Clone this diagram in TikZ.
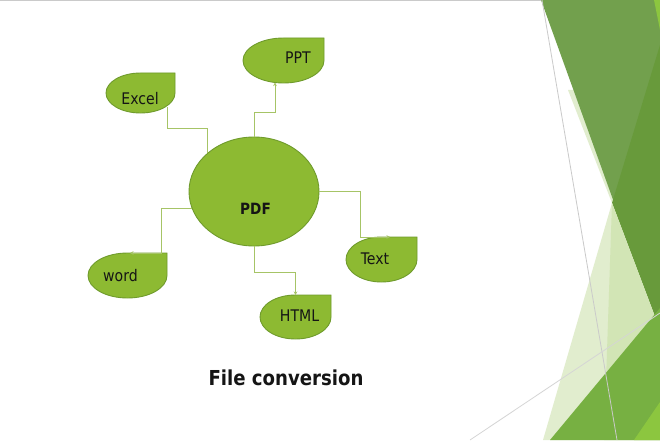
\documentclass[tikz,border=0pt]{standalone}
\usepackage{fontspec}
\setmainfont{DejaVu Sans}[FakeStretch=0.88]
\usetikzlibrary{calc,arrows.meta,shapes.geometric}
\definecolor{leaf}{HTML}{8DBA32}
\definecolor{leafline}{HTML}{6F9B2C}
\definecolor{linkc}{HTML}{A6C466}
\definecolor{darkA}{HTML}{72A04D}
\definecolor{darkB}{HTML}{689A3B}
\definecolor{paleA}{HTML}{E1EDCE}
\definecolor{paleB}{HTML}{D2E5B5}
\definecolor{midg}{HTML}{77B042}
\definecolor{brightg}{HTML}{8CC63F}
\definecolor{greyline}{HTML}{CACACA}
\definecolor{inkc}{HTML}{151515}
\tikzset{
  tbox/.style 2 args={rectangle, minimum width=#1, minimum height=#2, inner sep=0pt, outer sep=0pt},
  tear/.style={fill=leaf, draw=leafline, line width=0.9pt},
  lbl/.style={text=inkc, inner sep=0pt, font=\fontsize{16}{19}\selectfont, anchor=base},
  link/.style={draw=linkc, line width=0.9pt},
  tip/.style={-{Stealth[length=3.5pt,width=3.5pt]}},
}
\newcommand\teardrop[1]{%
  \draw[tear] let \p1=($(#1.north east)-(#1.center)$) in
    (#1.west) arc[start angle=180,end angle=360,x radius=\x1,y radius=\y1]
    -- (#1.north east) -- (#1.north)
    arc[start angle=90,end angle=180,x radius=\x1,y radius=\y1] -- cycle;}
\begin{document}
\begin{tikzpicture}[x=1pt,y=1pt]
\useasboundingbox (0,0) rectangle (660,440);
\fill[white] (0,0) rectangle (660,440);
% top border line
\draw[greyline, line width=1.4pt] (0,439.2) -- (660,439.2);
% background facets (screen y -> 440-y)
\fill[paleA] (568,350) -- (612,237) -- (660,110) -- (660,350) -- cycle;
\fill[darkA] (541,440) -- (660,440) -- (660,110) -- cycle;
\fill[darkB] (612,237) -- (660,395) -- (660,110) -- cycle;
\fill[paleA] (612,237) -- (543,0) -- (660,0) -- (660,110) -- cycle;
\fill[paleB] (612,237) -- (604,0) -- (660,0) -- (660,110) -- cycle;
\fill[midg] (550,0) -- (660,132) -- (660,0) -- cycle;
\fill[brightg] (634,0) -- (660,38) -- (660,0) -- cycle;
\fill[brightg] (654,440) -- (660,440) -- (660,410) -- cycle;
\draw[greyline, line width=0.8pt] (542,440) -- (617,0);
\draw[greyline!80, line width=0.8pt] (470,0) -- (660,127);
% shapes
\node[tbox={69}{40}] (excel) at (140.5,347) {};
\node[tbox={81}{45}] (ppt) at (283.5,379.5) {};
\node[tbox={71}{45}] (ttext) at (381.5,180.5) {};
\node[tbox={79}{45}] (word) at (127.5,164.5) {};
\node[tbox={71}{44}] (html) at (295.5,123) {};
\node[ellipse, fill=leaf, draw=leafline, line width=0.9pt, minimum width=130, minimum height=109, inner sep=0pt] (pdf) at (254,248.5) {};
\teardrop{excel}
\teardrop{ppt}
\teardrop{ttext}
\teardrop{word}
\teardrop{html}
% connectors
\draw[link] (pdf.140) |- ($(excel.center)+(26.5,-35)$) -- ($(excel.center)+(26.5,-13.7)$);
\draw[link, tip] (pdf.north) |- ($(ppt.center)+(-8.5,-51.5)$) -- ($(ppt.center)+(-8.5,-22)$);
\draw[link, tip] (pdf.east) -| ($(ttext.north)+(-21.5,0)$) -- ($(ttext.north)+(8.5,0)$);
\draw[link, tip] (pdf.195) -| ($(word.north)+(33.5,0)$) -- ($(word.north)+(2.5,0)$);
\draw[link, tip] (pdf.south) |- ($(html.north)+(0,23)$) -- (html.north);
% labels
\node[lbl] (excel-t) at (140,335) {Excel};
\node[lbl] (ppt-t) at (298,376) {PPT};
\node[lbl] (ttext-t) at (375,176) {Text};
\node[lbl] (word-t) at (120.5,159) {word};
\node[lbl] (html-t) at (299.5,119) {HTML};
\node[lbl, font=\fontsize{15.5}{18}\selectfont\bfseries] (pdf-t) at (255.5,225.5) {PDF};
\node[lbl, font=\fontsize{20.6}{24}\selectfont\bfseries] (title) at (286,55) {File conversion};
\end{tikzpicture}
\end{document}
